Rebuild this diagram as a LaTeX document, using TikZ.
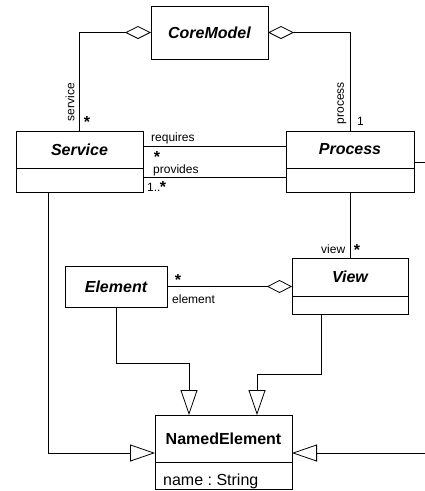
\documentclass[tikz,border=0pt]{standalone}
\usepackage{fontspec}
\setmainfont{Liberation Sans}
\frenchspacing
\usetikzlibrary{arrows.meta}
\newcommand{\mstar}{\raisebox{-6pt}{*}}
\begin{document}
\begin{tikzpicture}[x=1pt,y=-1pt,
  box/.style={draw,line width=0.8pt,inner sep=0pt,outer sep=0pt},
  cname/.style={box,font=\fontsize{16}{19}\selectfont\bfseries\itshape},
  bname/.style={box,font=\fontsize{16}{19}\selectfont\bfseries},
  lbl/.style={font=\fontsize{12}{14}\selectfont,inner sep=0pt},
  attr/.style={font=\fontsize{16}{19}\selectfont,inner sep=0pt},
  mult/.style={font=\fontsize{16}{16}\selectfont\bfseries,inner sep=0pt,anchor=north,
    text height=5.5pt,text depth=0pt},
  conn/.style={line width=0.8pt},
  agg/.style={conn,{Diamond[open,length=26pt,width=13pt]}-},
  gen/.style={conn,-{Triangle[open,length=25pt,width=17pt]}}]
\useasboundingbox (0,0) rectangle (425,491);

% classes
\node[cname,minimum width=117pt,minimum height=53pt] (core) at (209.5,32.5) {CoreModel};
\node[cname,minimum width=127pt,minimum height=37pt] (serviceA) at (79.5,149.5) {Service};
\node[box,minimum width=127pt,minimum height=24pt] (serviceB) at (79.5,180) {};
\node[cname,minimum width=128pt,minimum height=37pt] (processA) at (350,149.5) {Process};
\node[box,minimum width=128pt,minimum height=24pt] (processB) at (350,180) {};
\node[cname,minimum width=102pt,minimum height=41pt] (element) at (116,286.5) {Element};
\node[cname,minimum width=116pt,minimum height=38pt] (viewA) at (350,277) {View};
\node[box,minimum width=116pt,minimum height=18pt] (viewB) at (350,305) {};
\node[bname,minimum width=137pt,minimum height=47pt] (namedA) at (223.5,438.5) {NamedElement};
\node[box,minimum width=137pt,minimum height=27pt] (namedB) at (223.5,475.5) {};
\node[attr,anchor=base west] (attr) at (163,485) {name : String};

% connectors
\draw[agg] (core.west) -| (serviceA.north);
\draw[agg] (core.east) -| (processA.north);
\draw[conn] ([yshift=3.5pt]serviceA.east) -- ([yshift=3.5pt]processA.west);
\draw[conn] ([yshift=3pt]serviceB.east) -- ([yshift=3pt]processB.west);
\coordinate (edgeP) at (426,162);
\draw[conn] ([yshift=-12.5pt]processA.east) -- (edgeP);
\draw[conn] (processB.south) -- (viewA.north);
\draw[conn,-{Diamond[open,length=25pt,width=13pt]}] (element.east) -- (element.east -| viewA.west);
\draw[gen] ([xshift=-31.5pt]serviceB.south) |- ([yshift=-14.5pt]namedA.west);
\coordinate (edgeN) at (426,453);
\draw[gen] (edgeN) -- ([yshift=-14.5pt]namedA.east);
\draw[gen] (element.south) -- ++(0,56) -| ([xshift=-34.5pt]namedA.north);
\draw[gen] ([xshift=-29pt]viewB.south) -- ++(0,60) -| ([xshift=33.5pt]namedA.north);

% labels
\node[lbl,rotate=90] (lservice) at (70,102) {service};
\node[mult] (mservice) at (87,116) {\mstar};
\node[lbl,rotate=90] (lprocess) at (342,103) {process};
\node[lbl,anchor=base west] (mprocess) at (357,125) {1};
\node[lbl,anchor=base west] (lrequires) at (151,141) {requires};
\node[mult] (mrequires) at (157,150.5) {\mstar};
\node[lbl,anchor=base west] (lprovides) at (153,173.5) {provides};
\node[lbl,anchor=base west] (mprov1) at (147,191) {1..};
\node[mult] (mprov2) at (163,180.5) {\mstar};
\node[lbl,anchor=base west] (lview) at (321,253) {view};
\node[mult] (mview) at (357,244) {\mstar};
\node[mult] (melement) at (178,274) {\mstar};
\node[lbl,anchor=base west] (lelement) at (172,303) {element};
\end{tikzpicture}
\end{document}
